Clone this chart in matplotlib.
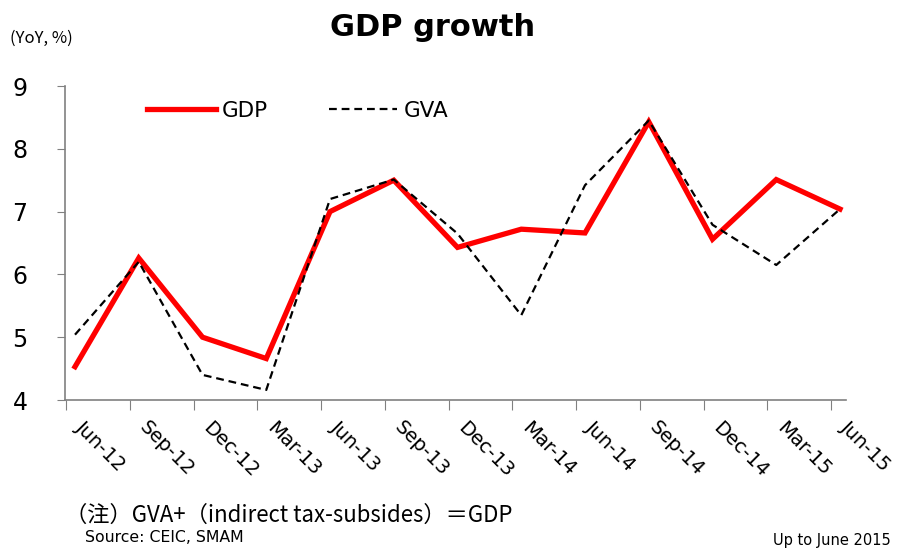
import matplotlib.pyplot as plt
import matplotlib.transforms as mtransforms
import numpy as np

quarters = ['Jun-12', 'Sep-12', 'Dec-12', 'Mar-13', 'Jun-13', 'Sep-13', 'Dec-13',
            'Mar-14', 'Jun-14', 'Sep-14', 'Dec-14', 'Mar-15', 'Jun-15']
gdp = [4.53, 6.26, 5.0, 4.66, 7.0, 7.5, 6.43, 6.72, 6.66, 8.43, 6.56, 7.51, 7.04]
gva = [5.04, 6.2, 4.4, 4.16, 7.2, 7.51, 6.65, 5.35, 7.42, 8.45, 6.79, 6.15, 7.04]

fig = plt.figure(figsize=(8.97, 5.48), dpi=100)
ax = fig.add_axes([65/897, 1 - 400/548, (846 - 65)/897, (400 - 86)/548])

x = np.arange(len(quarters))
ax.plot(x, gdp, color='#ff0000', lw=3.8, label='GDP', solid_joinstyle='miter')
ax.plot(x, gva, color='black', lw=1.6, ls=(0, (3.5, 2.2)), label='GVA')

ax.set_xlim(-0.157, 12.094)
ax.set_ylim(4, 9)
ax.set_yticks([4, 5, 6, 7, 8, 9])
ax.tick_params(axis='y', labelsize=17, length=6, color='#808080', pad=21)
ax.set_xticks(x - 0.14)
ax.set_xticklabels(quarters, rotation=-45, ha='left', va='top', rotation_mode='anchor')
ax.tick_params(axis='x', labelsize=14, length=7, color='#808080', pad=6)
# shift the slanted labels a bit right, as in the original
shift = mtransforms.ScaledTranslation(14/72, 0, fig.dpi_scale_trans)
for lab in ax.get_xticklabels():
    lab.set_transform(lab.get_transform() + shift)

for s in ['top', 'right']:
    ax.spines[s].set_visible(False)
for s in ['left', 'bottom']:
    ax.spines[s].set_color('#808080')
    ax.spines[s].set_linewidth(1.2)

ax.legend(loc='upper left', bbox_to_anchor=(0.08, 1.015), ncol=2, frameon=False,
          fontsize=15.5, handlelength=3.2, columnspacing=2.8, handletextpad=0.3)

fig.text(433/897, 1 - 27/548, 'GDP growth', fontsize=22, fontweight='bold',
         ha='center', va='center')
fig.text(10/897, 1 - 38/548, '(YoY, %)', fontsize=12, ha='left', va='center',
         family=['Noto Sans CJK JP', 'DejaVu Sans'])
fig.text(65/897, 1 - 515/548, '（注）GVA+（indirect tax-subsides）＝GDP', fontsize=16,
         ha='left', va='center', family=['Noto Sans CJK JP', 'DejaVu Sans'])
fig.text(85/897, 1 - 538/548, 'Source: CEIC, SMAM', fontsize=11.3, ha='left', va='center')
fig.text(891/897, 1 - 540/548, 'Up to June 2015', fontsize=10.5, ha='right', va='center')

fig.savefig('out.png', dpi=100)
